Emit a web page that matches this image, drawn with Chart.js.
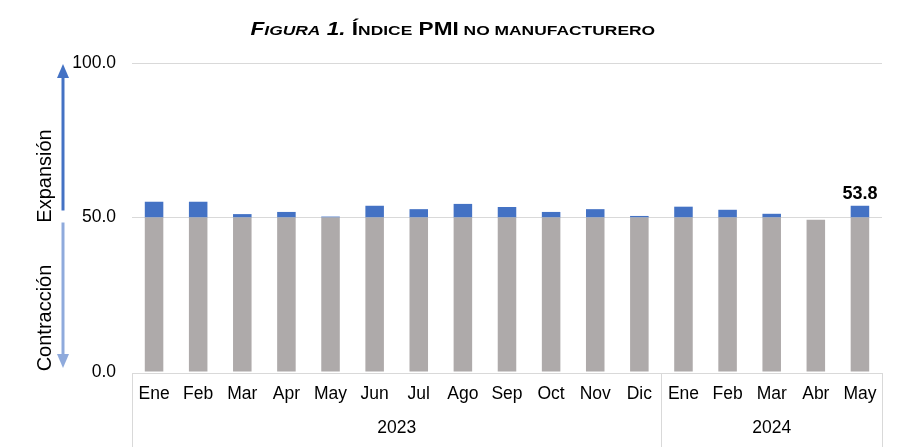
<!DOCTYPE html>
<html>
<head>
<meta charset="utf-8">
<script src="https://cdn.jsdelivr.net/npm/chart.js@4.4.1/dist/chart.umd.min.js"></script>
<style>
  body { margin: 0; background: #fff; }
  #wrap { position: relative; width: 905px; height: 447px; }
  #title {
    position: absolute; top: 19px; left: 0; width: 905px; text-align: center;
    font-family: "Liberation Sans", Arial, sans-serif; font-weight: bold; color: #000;
  }
  #title span.t { display: inline-block; transform: scaleX(1.29); transform-origin: center; white-space: nowrap; }
  .B { font-size: 17.5px; }
  .s { font-size: 13.5px; }
</style>
</head>
<body>
<div id="wrap">
  <div id="title"><span class="t"><i><span class="B">F</span><span class="s">IGURA</span><span class="B"> 1.</span></i><span class="B"> Í</span><span class="s">NDICE</span><span class="B"> PMI</span><span class="s"> NO MANUFACTURERO</span></span></div>
  <canvas id="myChart" width="905" height="447"></canvas>
</div>
<script>
const months = ["Ene", "Feb", "Mar", "Apr", "May", "Jun", "Jul", "Ago", "Sep", "Oct", "Nov", "Dic", "Ene", "Feb", "Mar", "Abr", "May"];
const years = ["2023", "2024"];
const monthsPerYear = [12, 5];
const pmiValues = [55.1, 55.1, 51.1, 51.8, 50.3, 53.8, 52.7, 54.4, 53.4, 51.8, 52.7, 50.5, 53.5, 52.5, 51.2, 49.3, 53.8];
const yTicks = [0, 50, 100];
const threshold = 50;

const grayPart = pmiValues.map(v => Math.min(v, threshold));
const bluePart = pmiValues.map(v => Math.max(v - threshold, 0));

const font = "'Liberation Sans', Arial, sans-serif";

// arrows + rotated labels on the left, year boxes under the axis, last value label
const extras = {
    id: "extras",
    afterDraw(chart) {
        const ctx = chart.ctx;
        const y = chart.scales.y;
        const x = chart.scales.x;
        const area = chart.chartArea;
        const y50 = y.getPixelForValue(threshold);

        function arrow(x0, yFrom, yTo, color) {
            const dir = yTo < yFrom ? -1 : 1;
            ctx.save();
            ctx.strokeStyle = color;
            ctx.fillStyle = color;
            ctx.lineWidth = 3;
            ctx.beginPath();
            ctx.moveTo(x0, yFrom);
            ctx.lineTo(x0, yTo - dir * 12);
            ctx.stroke();
            ctx.beginPath();
            ctx.moveTo(x0, yTo);
            ctx.lineTo(x0 - 6, yTo - dir * 14);
            ctx.lineTo(x0 + 6, yTo - dir * 14);
            ctx.closePath();
            ctx.fill();
            ctx.restore();
        }
        arrow(63, y50 - 7, y.getPixelForValue(100) + 1, "#4472c4");
        arrow(63, y50 + 5, y.getPixelForValue(0) - 4, "#8faadc");

        ctx.save();
        ctx.fillStyle = "#000";
        ctx.font = "20px " + font;
        ctx.textAlign = "center";
        ctx.textBaseline = "middle";
        ctx.translate(45, 176);
        ctx.rotate(-Math.PI / 2);
        ctx.fillText("Expansión", 0, 0);
        ctx.restore();
        ctx.save();
        ctx.fillStyle = "#000";
        ctx.font = "20px " + font;
        ctx.textAlign = "center";
        ctx.textBaseline = "middle";
        ctx.translate(45, 318);
        ctx.rotate(-Math.PI / 2);
        ctx.fillText("Contracción", 0, 0);
        ctx.restore();

        // category box
        const step = x.getPixelForValue(1) - x.getPixelForValue(0);
        const top = area.bottom + 1;
        ctx.save();
        ctx.strokeStyle = "#d9d9d9";
        ctx.lineWidth = 1;
        ctx.beginPath();
        ctx.moveTo(area.left, top + 0.5);
        ctx.lineTo(area.right, top + 0.5);
        let idx = 0;
        const edges = [area.left];
        monthsPerYear.forEach(n => {
            idx += n;
            edges.push(x.getPixelForValue(idx - 1) + step / 2);
        });
        edges.forEach(e => {
            const ex = Math.round(e) + 0.5;
            ctx.moveTo(ex, top);
            ctx.lineTo(ex, 447);
        });
        ctx.stroke();

        ctx.fillStyle = "#000";
        ctx.font = "17.5px " + font;
        ctx.textAlign = "center";
        ctx.textBaseline = "middle";
        years.forEach((yr, i) => {
            ctx.fillText(yr, (edges[i] + edges[i + 1]) / 2, 428);
        });

        // last value label
        const meta = chart.getDatasetMeta(1);
        const last = meta.data[pmiValues.length - 1];
        ctx.font = "bold 18px " + font;
        ctx.textBaseline = "alphabetic";
        ctx.fillText(pmiValues[pmiValues.length - 1].toFixed(1), last.x, last.y - 7);
        ctx.restore();
    }
};

new Chart("myChart", {
    type: "bar",
    data: {
        labels: months,
        datasets: [{
            label: "base",
            backgroundColor: "#aeaaaa",
            data: grayPart,
            categoryPercentage: 1,
            barPercentage: 0.42
        }, {
            label: "sobre 50",
            backgroundColor: "#4472c4",
            data: bluePart,
            categoryPercentage: 1,
            barPercentage: 0.42
        }]
    },
    options: {
        responsive: false,
        animation: false,
        layout: { padding: { top: 63, right: 23, left: 0, bottom: 0 } },
        plugins: { legend: { display: false }, tooltip: { enabled: false } },
        scales: {
            x: {
                stacked: true,
                grid: { display: false },
                border: { display: false },
                ticks: { color: "#000", font: { family: font, size: 17.5 }, padding: 4, maxRotation: 0, autoSkip: false },
                afterFit(scale) { scale.height = 75; }
            },
            y: {
                stacked: true,
                min: 0,
                max: 100,
                afterBuildTicks(scale) { scale.ticks = yTicks.map(v => ({ value: v })); },
                grid: { color: ctx => ctx.tick && ctx.tick.value === 0 ? "rgba(0,0,0,0)" : "#d9d9d9", drawTicks: false },
                border: { display: false },
                ticks: { color: "#000", font: { family: font, size: 17.5 }, padding: 16, callback: v => v.toFixed(1) },
                afterFit(scale) { scale.width = 132; }
            }
        }
    },
    plugins: [extras]
});
</script>
</body>
</html>
